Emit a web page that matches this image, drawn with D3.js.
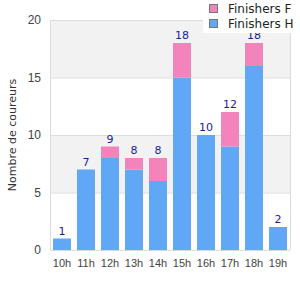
<!DOCTYPE html>
<html>
<head>
<meta charset="utf-8">
<script src="https://cdn.jsdelivr.net/npm/d3@7"></script>
<style>
  body { margin: 0; background: #fff; }
  svg { display: block; }
</style>
</head>
<body>
<div id="chart"></div>
<script>
// heures de passage
const hours = ["10h", "11h", "12h", "13h", "14h", "15h", "16h", "17h", "18h", "19h"]
const finishersH = [1, 7, 8, 7, 6, 15, 10, 9, 16, 2]
const finishersF = [0, 0, 1, 1, 2, 3, 0, 3, 2, 0]
const yTicks = [0, 5, 10, 15, 20]

function drawChart() {
    const width = 300, height = 300
    const margin = {top: 20, right: 10, bottom: 50, left: 50}

    const data = hours.map((h, i) => ({hour: h, H: finishersH[i], F: finishersF[i]}))
    const stack = d3.stack().keys(["H", "F"])
    const series = stack(data)

    const x = d3.scaleBand()
        .domain(hours)
        .range([margin.left, width - margin.right])
        .paddingInner(0.25)
        .paddingOuter(0.125)

    const y = d3.scaleLinear()
        .domain([0, 20])
        .range([height - margin.bottom, margin.top])

    const color = d3.scaleOrdinal()
        .domain(["H", "F"])
        .range(["#60a8f5", "#f283bb"])

    const svg = d3.select("#chart")
        .append("svg")
        .attr("width", width)
        .attr("height", height)
        .style("font", "11px 'DejaVu Sans', sans-serif")

    // bandes alternées
    const bands = d3.pairs(yTicks)
    svg.append("g").selectAll("rect")
        .data(bands)
        .enter().append("rect")
        .attr("x", margin.left)
        .attr("width", width - margin.right - margin.left)
        .attr("y", d => y(d[1]))
        .attr("height", d => y(d[0]) - y(d[1]))
        .attr("fill", (d, i) => i % 2 ? "#f2f2f2" : "#fff")

    svg.append("g").selectAll("line")
        .data(yTicks)
        .enter().append("line")
        .attr("x1", margin.left)
        .attr("x2", width - margin.right)
        .attr("y1", d => y(d) + 0.5)
        .attr("y2", d => y(d) + 0.5)
        .attr("stroke", "#dcdcdc")

    // bordures gauche / droite
    svg.append("g").selectAll("line")
        .data([margin.left, width - margin.right])
        .enter().append("line")
        .attr("x1", d => d + 0.5)
        .attr("x2", d => d + 0.5)
        .attr("y1", y(20))
        .attr("y2", y(0))
        .attr("stroke", "#dcdcdc")

    svg.append("g").selectAll("g")
        .data(series)
        .enter().append("g")
        .attr("fill", d => color(d.key))
        .selectAll("rect")
        .data(d => d)
        .enter().append("rect")
        .attr("x", d => x(d.data.hour))
        .attr("width", x.bandwidth())
        .attr("y", d => y(d[1]))
        .attr("height", d => y(d[0]) - y(d[1]))

    // totaux
    svg.append("g").selectAll("text")
        .data(data)
        .enter().append("text")
        .attr("x", d => x(d.hour) + x.bandwidth() / 2)
        .attr("y", d => y(d.H + d.F) - 4)
        .attr("text-anchor", "middle")
        .attr("fill", "#1c1c9a")
        .text(d => d.H + d.F)

    // axes
    const yAxis = svg.append("g")
        .attr("transform", `translate(${margin.left},0)`)
        .call(d3.axisLeft(y).tickValues(yTicks).tickSize(0).tickPadding(9))
    yAxis.select(".domain").remove()
    yAxis.selectAll("text").attr("fill", "#444").style("font-size", "12px")

    const xAxis = svg.append("g")
        .attr("transform", `translate(0,${height - margin.bottom})`)
        .call(d3.axisBottom(x).tickSize(0).tickPadding(9))
    xAxis.select(".domain").remove()
    xAxis.selectAll("text").attr("fill", "#444").style("font-size", "11px")

    svg.append("text")
        .attr("transform", `translate(12,${(margin.top + height - margin.bottom) / 2}) rotate(-90)`)
        .attr("text-anchor", "middle")
        .attr("dy", "0.35em")
        .attr("fill", "#333")
        .text("Nombre de coureurs")

    // légende
    const legend = svg.append("g")
    legend.append("rect")
        .attr("x", 203).attr("y", 0)
        .attr("width", 89).attr("height", 33)
        .attr("fill", "#fff")
    const items = legend.selectAll("g")
        .data(["F", "H"])
        .enter().append("g")
        .attr("transform", (d, i) => `translate(209,${4 + i * 15})`)
    items.append("rect")
        .attr("x", 0.5).attr("y", 0.5)
        .attr("width", 8).attr("height", 8)
        .attr("fill", d => color(d))
        .attr("stroke", "#777")
    items.append("text")
        .attr("x", 19)
        .attr("y", 4.5)
        .attr("dy", "0.35em")
        .attr("fill", "#222")
        .style("font-size", "12px")
        .text(d => "Finishers " + d)

    return svg.node()
}

drawChart()
</script>
</body>
</html>
